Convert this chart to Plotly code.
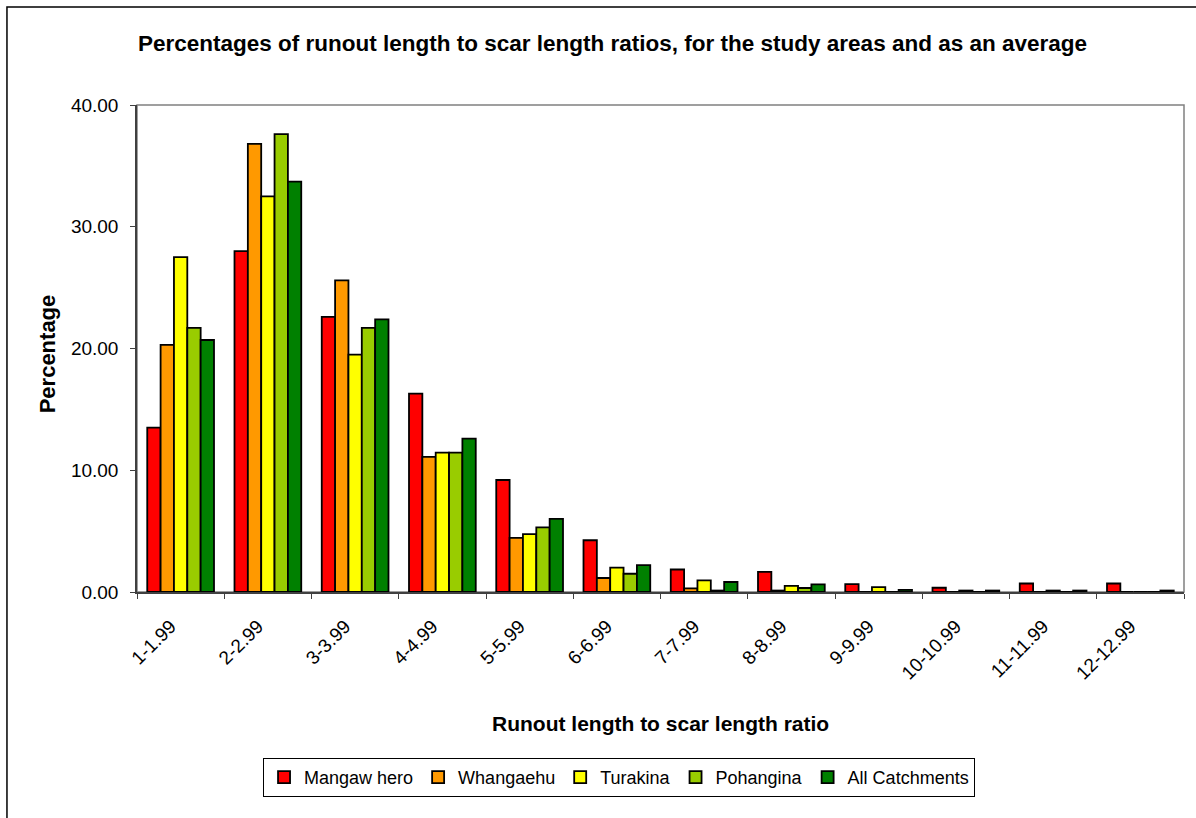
import plotly.graph_objects as go

# category labels (runout / scar length ratio bins)
categories = ['1-1.99', '2-2.99', '3-3.99', '4-4.99', '5-5.99', '6-6.99',
              '7-7.99', '8-8.99', '9-9.99', '10-10.99', '11-11.99', '12-12.99']

series_names = ['Mangaw hero', 'Whangaehu', 'Turakina', 'Pohangina', 'All Catchments']

mangawhero = [13.5, 28.0, 22.6, 16.3, 9.2, 4.25, 1.85, 1.65, 0.65, 0.35, 0.7, 0.7]
whangaehu = [20.3, 36.8, 25.6, 11.1, 4.45, 1.15, 0.3, 0.12, 0, 0, 0, 0]
turakina = [27.5, 32.5, 19.5, 11.45, 4.75, 2.0, 0.95, 0.5, 0.4, 0.12, 0.12, 0]
pohangina = [21.7, 37.6, 21.7, 11.45, 5.3, 1.5, 0.12, 0.33, 0, 0, 0, 0]
all_catchments = [20.7, 33.7, 22.4, 12.6, 6.0, 2.2, 0.82, 0.63, 0.18, 0.12, 0.12, 0.12]

colours = ['#FF0000', '#FF9900', '#FFFF00', '#99CC00', '#008000']

FONT = 'Liberation Sans, Arial, sans-serif'

traces = []
for name, vals, col in zip(series_names,
                           [mangawhero, whangaehu, turakina, pohangina, all_catchments],
                           colours):
    traces.append(go.Bar(x=categories, y=vals, name=name,
                         marker=dict(color=col, line=dict(color='black', width=1.8))))

fig = go.Figure(data=traces)

fig.update_layout(
    width=1196, height=818,
    margin=dict(l=137, r=12, t=105, b=226),
    paper_bgcolor='white', plot_bgcolor='white',
    font=dict(family=FONT, size=19, color='black'),
    barmode='group', bargap=0.235, bargroupgap=0,
    showlegend=True,
    legend=dict(orientation='h', x=0.4604, xanchor='center', y=-0.3409, yanchor='top',
                bordercolor='black', borderwidth=1, font=dict(size=18),
                itemclick=False),
    xaxis=dict(type='category', tickson='boundaries', ticks='outside', ticklen=5,
               tickcolor='#404040', tickangle=-45, showgrid=False,
               showline=True, linecolor='#404040', linewidth=1.5,
               ticklabelstandoff=14, ticklabelshift=-10,
               tickfont=dict(size=19)),
    yaxis=dict(range=[0, 40], dtick=10, tickformat='.2f', ticks='outside', ticklen=5,
               tickcolor='#404040', showgrid=False, zeroline=False,
               showline=True, linecolor='#404040', linewidth=1.5,
               ticklabelstandoff=8, tickfont=dict(size=19)),
    shapes=[
        # plot area frame (top / right)
        dict(type='rect', xref='paper', yref='paper', x0=0, y0=0, x1=1, y1=1,
             line=dict(color='#808080', width=1.5), layer='below'),
        # outer chart frame
        dict(type='rect', xref='paper', yref='paper', x0=-0.1242, y0=-1.0, x1=1.2, y1=1.2012,
             line=dict(color='black', width=1.5), layer='below'),
    ],
    annotations=[
        dict(text='<b>Percentages of runout length to scar length ratios, for the study areas and as an average</b>',
             xref='paper', yref='paper', x=0.4537, y=1.1253, xanchor='center', yanchor='middle',
             showarrow=False, font=dict(size=22.5)),
        dict(text='<b>Runout length to scar length ratio</b>',
             xref='paper', yref='paper', x=0.5, y=-0.269, xanchor='center', yanchor='middle',
             showarrow=False, font=dict(size=21)),
        dict(text='<b>Percentage</b>', textangle=-90,
             xref='paper', yref='paper', x=-0.0860, y=0.49, xanchor='center', yanchor='middle',
             showarrow=False, font=dict(size=22)),
    ],
)

# drop the default page margin so the figure fills the window exactly
fig.write_html("out.html", config={'displayModeBar': False},
               post_script="document.body.style.margin='0';")
